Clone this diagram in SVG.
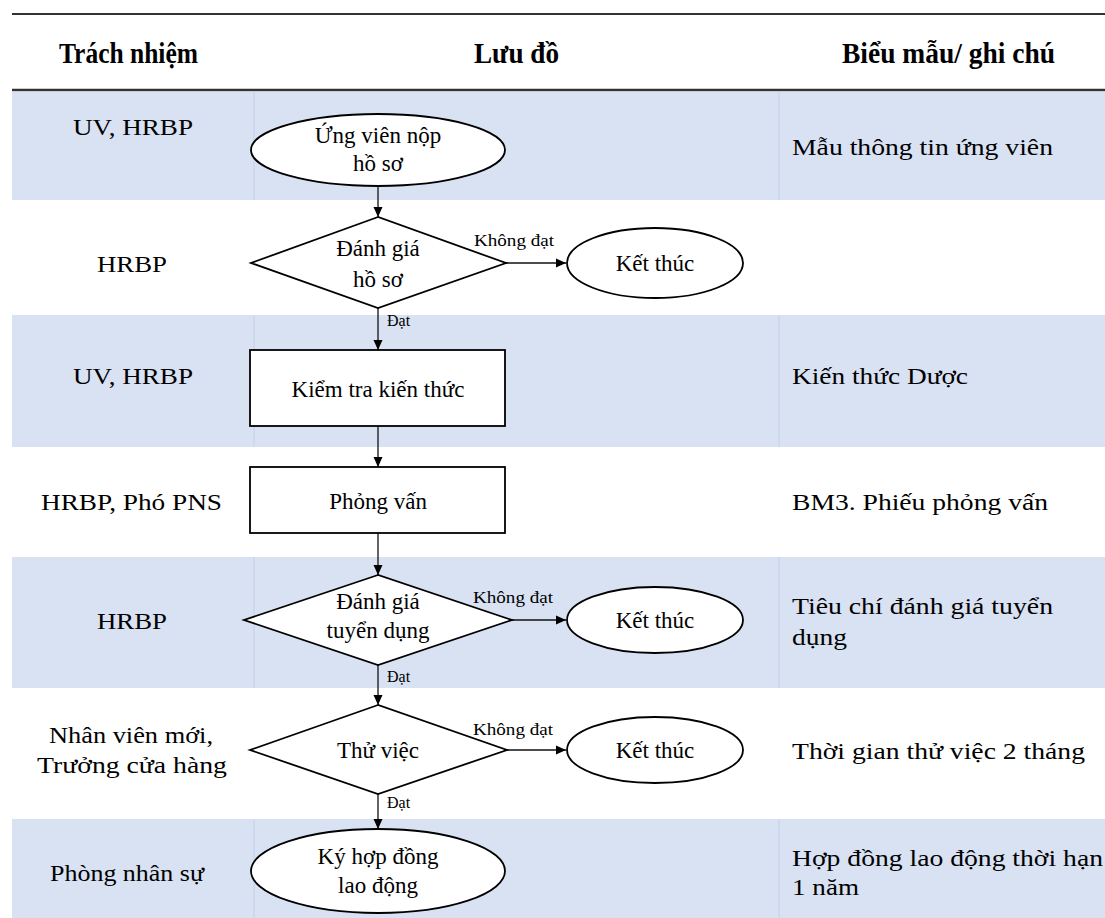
<svg xmlns="http://www.w3.org/2000/svg" width="1105" height="918" viewBox="0 0 1105 918">
<defs>
<marker id="arr" viewBox="0 0 10 10" refX="10" refY="5" markerWidth="10" markerHeight="10" markerUnits="userSpaceOnUse" orient="auto">
<path d="M0,0.5 L10,5 L0,9.5 Z" fill="#000"/>
</marker>
<style>
.band{fill:#D9E2F3}
.div{stroke:#C3D0E8;stroke-width:1}
.hdr{font-family:"Liberation Serif",serif;font-weight:bold;font-size:30px;fill:#000}
.col{font-family:"Liberation Serif",serif;font-size:24px;fill:#000}
.ft{font-family:"Liberation Serif",serif;font-size:23px;fill:#000;text-anchor:middle}
.lbl{font-family:"Liberation Serif",serif;font-size:16px;fill:#000}
.shape{fill:#fff;stroke:#000;stroke-width:1.8}
.con{stroke:#111;stroke-width:1.3;fill:none;marker-end:url(#arr)}
.rule{stroke:#333;fill:none}
</style>
</defs>
<rect width="1105" height="918" fill="#fff"/>
<g id="table">
<rect class="band" x="12" y="92" width="1093" height="108"/>
<rect class="band" x="12" y="315" width="1093" height="132"/>
<rect class="band" x="12" y="557" width="1093" height="131"/>
<rect class="band" x="12" y="819" width="1093" height="99"/>
<line class="div" x1="254" y1="92" x2="254" y2="200"/><line class="div" x1="779" y1="92" x2="779" y2="200"/>
<line class="div" x1="254" y1="315" x2="254" y2="447"/><line class="div" x1="779" y1="315" x2="779" y2="447"/>
<line class="div" x1="254" y1="557" x2="254" y2="688"/><line class="div" x1="779" y1="557" x2="779" y2="688"/>
<line class="div" x1="254" y1="819" x2="254" y2="918"/><line class="div" x1="779" y1="819" x2="779" y2="918"/>
<line class="rule" x1="12" y1="14" x2="1105" y2="14" stroke-width="2"/>
<line class="rule" x1="12" y1="90" x2="1105" y2="90" stroke-width="2.5"/>
<text class="hdr" x="59" y="63" textLength="139" lengthAdjust="spacingAndGlyphs">Trách nhiệm</text>
<text class="hdr" x="474" y="63" textLength="85" lengthAdjust="spacingAndGlyphs">Lưu đồ</text>
<text class="hdr" x="842" y="63" textLength="213" lengthAdjust="spacingAndGlyphs">Biểu mẫu/ ghi chú</text>
</g>
<g id="responsibility">
<text class="col" x="73" y="135" textLength="120" lengthAdjust="spacingAndGlyphs">UV, HRBP</text>
<text class="col" x="97" y="272" textLength="70" lengthAdjust="spacingAndGlyphs">HRBP</text>
<text class="col" x="73" y="384" textLength="120" lengthAdjust="spacingAndGlyphs">UV, HRBP</text>
<text class="col" x="41" y="510" textLength="181" lengthAdjust="spacingAndGlyphs">HRBP, Phó PNS</text>
<text class="col" x="97" y="629" textLength="70" lengthAdjust="spacingAndGlyphs">HRBP</text>
<text class="col" x="49" y="743" textLength="164" lengthAdjust="spacingAndGlyphs">Nhân viên mới,</text>
<text class="col" x="37" y="773" textLength="190" lengthAdjust="spacingAndGlyphs">Trưởng cửa hàng</text>
<text class="col" x="50" y="881" textLength="154" lengthAdjust="spacingAndGlyphs">Phòng nhân sự</text>
</g>
<g id="forms">
<text class="col" x="792" y="155" textLength="261" lengthAdjust="spacingAndGlyphs">Mẫu thông tin ứng viên</text>
<text class="col" x="792" y="384" textLength="176" lengthAdjust="spacingAndGlyphs">Kiến thức Dược</text>
<text class="col" x="792" y="510" textLength="256" lengthAdjust="spacingAndGlyphs">BM3. Phiếu phỏng vấn</text>
<text class="col" x="792" y="614" textLength="261" lengthAdjust="spacingAndGlyphs">Tiêu chí đánh giá tuyển</text>
<text class="col" x="792" y="645" textLength="55" lengthAdjust="spacingAndGlyphs">dụng</text>
<text class="col" x="792" y="759" textLength="293" lengthAdjust="spacingAndGlyphs">Thời gian thử việc 2 tháng</text>
<text class="col" x="792" y="866" textLength="311" lengthAdjust="spacingAndGlyphs">Hợp đồng lao động thời hạn</text>
<text class="col" x="792" y="895" textLength="67" lengthAdjust="spacingAndGlyphs">1 năm</text>
</g>
<g id="connectors">
<line class="con" x1="378" y1="186" x2="378" y2="217"/>
<line class="con" x1="506" y1="263" x2="566" y2="263"/>
<line class="con" x1="378" y1="308" x2="378" y2="350"/>
<line class="con" x1="378" y1="426" x2="378" y2="467"/>
<line class="con" x1="378" y1="533" x2="378" y2="575"/>
<line class="con" x1="512" y1="620" x2="566" y2="620"/>
<line class="con" x1="378" y1="665" x2="378" y2="705"/>
<line class="con" x1="507" y1="750" x2="566" y2="750"/>
<line class="con" x1="378" y1="794" x2="378" y2="829"/>
<text class="lbl" x="474" y="246" textLength="80" lengthAdjust="spacingAndGlyphs">Không đạt</text>
<text class="lbl" x="387" y="326">Đạt</text>
<text class="lbl" x="473" y="603" textLength="80" lengthAdjust="spacingAndGlyphs">Không đạt</text>
<text class="lbl" x="387" y="682">Đạt</text>
<text class="lbl" x="473" y="735" textLength="80" lengthAdjust="spacingAndGlyphs">Không đạt</text>
<text class="lbl" x="387" y="808">Đạt</text>
</g>
<g id="n1">
<ellipse class="shape" cx="378" cy="150" rx="127" ry="36"/>
<text class="ft" x="378" y="143">Ứng viên nộp</text>
<text class="ft" x="378" y="171">hồ sơ</text>
</g>
<g id="n2">
<polygon class="shape" points="378,217 251,263 378,308 506,263"/>
<text class="ft" x="378" y="256">Đánh giá</text>
<text class="ft" x="378" y="287">hồ sơ</text>
</g>
<g id="n3">
<ellipse class="shape" cx="655" cy="263" rx="88" ry="35"/>
<text class="ft" x="655" y="271">Kết thúc</text>
</g>
<g id="n4">
<rect class="shape" x="250" y="350" width="255" height="76"/>
<text class="ft" x="378" y="397">Kiểm tra kiến thức</text>
</g>
<g id="n5">
<rect class="shape" x="250" y="467" width="255" height="66"/>
<text class="ft" x="378" y="509">Phỏng vấn</text>
</g>
<g id="n6">
<polygon class="shape" points="378,575 244,620 378,665 512,620"/>
<text class="ft" x="378" y="609">Đánh giá</text>
<text class="ft" x="378" y="638">tuyển dụng</text>
</g>
<g id="n7">
<ellipse class="shape" cx="655" cy="620" rx="88" ry="33"/>
<text class="ft" x="655" y="628">Kết thúc</text>
</g>
<g id="n8">
<polygon class="shape" points="378,705 250,750 378,794 507,750"/>
<text class="ft" x="378" y="758">Thử việc</text>
</g>
<g id="n9">
<ellipse class="shape" cx="655" cy="750" rx="88" ry="33"/>
<text class="ft" x="655" y="758">Kết thúc</text>
</g>
<g id="n10">
<ellipse class="shape" cx="378" cy="871" rx="127" ry="42"/>
<text class="ft" x="378" y="864">Ký hợp đồng</text>
<text class="ft" x="378" y="893">lao động</text>
</g>
</svg>
